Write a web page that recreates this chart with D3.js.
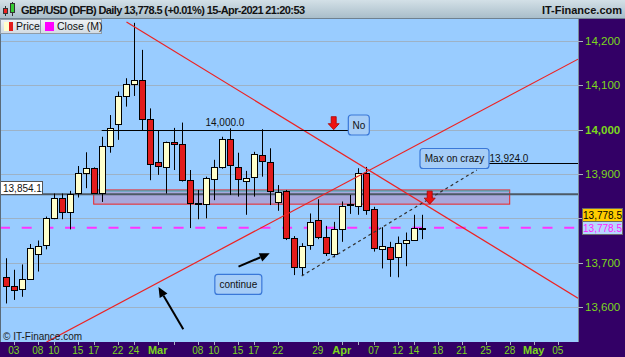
<!DOCTYPE html>
<html>
<head>
<meta charset="utf-8">
<script src="https://cdn.jsdelivr.net/npm/d3@7"></script>
<style>
body { margin: 0; background: #fff; }
svg { display: block; font-family: "Liberation Sans", Arial, sans-serif; }
</style>
</head>
<body>
<svg id="chart" width="625" height="357"></svg>
<script>
// daily GBP/USD candles, 02-Feb-2021 .. 15-Apr-2021
var dates = ["02-Feb","03-Feb","04-Feb","05-Feb","08-Feb","09-Feb","10-Feb","11-Feb","12-Feb","15-Feb",
    "16-Feb","17-Feb","18-Feb","19-Feb","22-Feb","23-Feb","24-Feb","25-Feb","26-Feb","01-Mar",
    "02-Mar","03-Mar","04-Mar","05-Mar","08-Mar","09-Mar","10-Mar","11-Mar","12-Mar","15-Mar",
    "16-Mar","17-Mar","18-Mar","19-Mar","22-Mar","23-Mar","24-Mar","25-Mar","26-Mar","29-Mar",
    "30-Mar","31-Mar","01-Apr","02-Apr","05-Apr","06-Apr","07-Apr","08-Apr","09-Apr","12-Apr",
    "13-Apr","14-Apr","15-Apr"];
var open  = [13668,13648,13640,13663,13719,13738,13800,13845,13813,13856,13902,13913,13856,13963,14014,14077,14103,14111,14023,13926,
    13916,13972,13968,13886,13834,13833,13889,13915,13978,13916,13886,13892,13942,13928,13838,13862,13756,13691,13738,13796,
    13757,13720,13776,13830,13828,13903,13820,13732,13736,13712,13745,13751,13778];
var high  = [13710,13684,13696,13742,13750,13804,13856,13856,13862,13918,13949,13915,13984,14033,14086,14116,14241,14180,14048,13999,
    13973,14004,14016,13909,13864,13894,13932,13984,14003,13948,13907,13950,14001,13958,13875,13864,13760,13744,13811,13843,
    13783,13792,13838,13853,13913,13916,13826,13780,13747,13759,13768,13808,13808];
var low   = [13608,13616,13623,13661,13680,13730,13798,13798,13775,13847,13868,13856,13837,13948,13977,14052,14076,13999,13886,13898,
    13856,13909,13883,13778,13798,13800,13841,13912,13853,13849,13808,13849,13894,13830,13817,13751,13672,13670,13729,13753,
    13715,13712,13747,13810,13808,13808,13725,13687,13668,13667,13692,13750,13753];
var close = [13647,13640,13663,13734,13738,13800,13845,13813,13854,13902,13913,13856,13963,14003,14077,14103,14111,14023,13922,13918,
    13972,13968,13886,13835,13834,13892,13915,13978,13920,13888,13892,13944,13928,13863,13860,13757,13691,13738,13791,13757,
    13720,13776,13828,13832,13902,13820,13732,13738,13708,13744,13751,13778,13778.5];

var yTicks = [13600, 13700, 13800, 13900, 14000, 14100, 14200];
var xTickIdx = [1, 4, 6, 9, 11, 14, 16, 19, 24, 26, 29, 31, 34, 39, 42, 46, 49, 51, 54, 57, 60, 63, 66, 69];
var xTickLabels = ["03","08","10","15","17","22","24","Mar","08","10","15","17","22","29","Apr","07","12","14","18","21","25","28","May","05"];
var xMinorIdx = [21, 44];

var lastPrice = 13778.5, supportLevel = 13854.1;
var zoneTop = 13864, zoneBottom = 13832, zoneFrom = 11, zoneTo = 63;
var resistLevel = 14000, resistFrom = 12, resistTo = 42.8;
var maxLevel = 13924, maxFrom = 54;
// trend lines: [index, price] pairs
var downTrend = [[15.1, 14243], [71.54, 13620]];
var upTrend = [[5.1, 13521], [71.54, 14159]];
var dashTrend = [[37, 13670], [58.9, 13909]];
var arrows = [[[22.2, 13550], [19.1, 13645]], [[29.1, 13691], [33.0, 13721]]];
var redArrows = [[41, 14000], [53, 13832]];

var W = 625, H = 357, plotL = 0, plotR = 578, plotT = 19, plotB = 342;
var svg = d3.select("#chart");
var x = d3.scaleLinear().domain([-0.7125, 71.5375]).range([plotL, plotR]);
var y = d3.scaleLinear().domain([13600, 14200]).range([307, 41]);
var fmt = d3.format(",.0f"), fmt1 = d3.format(",.1f");
var green = "#7cd81c";

var defs = svg.append("defs");
var grad = defs.append("linearGradient").attr("id", "tbar").attr("x1", 0).attr("y1", 0).attr("x2", 0).attr("y2", 1);
grad.append("stop").attr("offset", "0%").attr("stop-color", "#d3e0e7");
grad.append("stop").attr("offset", "100%").attr("stop-color", "#a7bcc8");
var lgrad = defs.append("linearGradient").attr("id", "lbar").attr("x1", 0).attr("y1", 0).attr("x2", 0).attr("y2", 1);
lgrad.append("stop").attr("offset", "0%").attr("stop-color", "#eef2f5");
lgrad.append("stop").attr("offset", "100%").attr("stop-color", "#d2dbe2");
defs.append("clipPath").attr("id", "clip").append("rect")
    .attr("x", plotL).attr("y", plotT).attr("width", plotR - plotL).attr("height", plotB - plotT);

// backgrounds
svg.append("rect").attr("x", 0).attr("y", plotT).attr("width", W).attr("height", H - plotT).attr("fill", "#330066");
svg.append("rect").attr("x", plotL).attr("y", plotT).attr("width", plotR - plotL).attr("height", plotB - plotT).attr("fill", "#99ccff");

var plot = svg.append("g").attr("clip-path", "url(#clip)");

// grid
plot.selectAll(".grid").data(yTicks).enter().append("line")
    .attr("x1", plotL).attr("x2", plotR)
    .attr("y1", function (d) { return Math.round(y(d)) + 0.5; })
    .attr("y2", function (d) { return Math.round(y(d)) + 0.5; })
    .attr("stroke", "#9db2c6").attr("stroke-width", 1);

// zone
plot.append("rect")
    .attr("x", x(zoneFrom)).attr("y", y(zoneTop))
    .attr("width", x(zoneTo) - x(zoneFrom)).attr("height", y(zoneBottom) - y(zoneTop))
    .attr("fill", "#a7a8dc").attr("stroke", "#ee2222").attr("stroke-width", 1);
plot.append("line")
    .attr("x1", x(zoneFrom)).attr("x2", x(zoneTo))
    .attr("y1", y(zoneTop) + 1).attr("y2", y(zoneTop) + 1)
    .attr("stroke", "#33aaaa").attr("stroke-width", 1);

// 13,854.1 level
plot.append("line")
    .attr("x1", plotL).attr("x2", plotR)
    .attr("y1", y(supportLevel)).attr("y2", y(supportLevel))
    .attr("stroke", "#4d5a66").attr("stroke-width", 2);

// close (M) dashed
plot.append("line")
    .attr("x1", plotL).attr("x2", plotR)
    .attr("y1", y(lastPrice)).attr("y2", y(lastPrice))
    .attr("stroke", "#ff33ff").attr("stroke-width", 2).attr("stroke-dasharray", "10,11.7");

// candles
var idx = d3.range(dates.length);
var cx = function (i) { return Math.round(x(i)) + 0.5; };
var candles = plot.append("g").selectAll("g").data(idx).enter().append("g");
candles.append("line")
    .attr("x1", cx).attr("x2", cx)
    .attr("y1", function (i) { return y(high[i]); })
    .attr("y2", function (i) { return y(low[i]); })
    .attr("stroke", "#000").attr("stroke-width", 1);
candles.append("rect")
    .attr("x", function (i) { return cx(i) - 3; })
    .attr("width", 6)
    .attr("y", function (i) { return Math.round(y(Math.max(open[i], close[i]))) + 0.5; })
    .attr("height", function (i) { return Math.max(1, Math.round(Math.abs(y(open[i]) - y(close[i])))); })
    .attr("fill", function (i) { return close[i] < open[i] ? "#e21b1b" : "#ffffcc"; })
    .attr("stroke", "#000").attr("stroke-width", 1);

// trend lines
function seg(g, p, color, w, dash) {
    return g.append("line")
        .attr("x1", x(p[0][0])).attr("y1", y(p[0][1]))
        .attr("x2", x(p[1][0])).attr("y2", y(p[1][1]))
        .attr("stroke", color).attr("stroke-width", w)
        .attr("stroke-dasharray", dash || null);
}
seg(plot, downTrend, "#ee2222", 1.2);
seg(plot, upTrend, "#ee2222", 1.2);
seg(plot, dashTrend, "#333", 1.2, "3,3");

// horizontal black levels
plot.append("line")
    .attr("x1", x(resistFrom)).attr("x2", x(resistTo))
    .attr("y1", Math.round(y(resistLevel)) + 0.5).attr("y2", Math.round(y(resistLevel)) + 0.5)
    .attr("stroke", "#000").attr("stroke-width", 1);
plot.append("text").attr("x", x(27.4)).attr("y", y(resistLevel) - 4)
    .attr("text-anchor", "middle").attr("font-size", 10).attr("fill", "#111")
    .text(fmt1(resistLevel));
plot.append("line")
    .attr("x1", x(maxFrom)).attr("x2", plotR)
    .attr("y1", Math.round(y(maxLevel)) + 0.5).attr("y2", Math.round(y(maxLevel)) + 0.5)
    .attr("stroke", "#000").attr("stroke-width", 1);

// black arrows
arrows.forEach(function (a) {
    var x1 = x(a[0][0]), y1 = y(a[0][1]), x2 = x(a[1][0]), y2 = y(a[1][1]);
    var ang = Math.atan2(y2 - y1, x2 - x1), L = 10, Wd = 4.5;
    var bx = x2 - L * Math.cos(ang), by = y2 - L * Math.sin(ang);
    plot.append("line").attr("x1", x1).attr("y1", y1).attr("x2", bx).attr("y2", by)
        .attr("stroke", "#000").attr("stroke-width", 2);
    plot.append("path").attr("d", "M" + x2 + "," + y2 +
        "L" + (bx + Wd * Math.sin(ang)) + "," + (by - Wd * Math.cos(ang)) +
        "L" + (bx - Wd * Math.sin(ang)) + "," + (by + Wd * Math.cos(ang)) + "Z")
        .attr("fill", "#000");
});

// red down arrows
redArrows.forEach(function (a) {
    var ax = x(a[0]), ay = y(a[1]);
    plot.append("path").attr("d",
        "M" + ax + "," + ay + "l-5.5,-6 l3,0 l0,-7 l5,0 l0,7 l3,0 Z")
        .attr("fill", "#ee1111").attr("stroke", "#aa0000").attr("stroke-width", 0.8);
});

// annotation boxes
function box(cxI, cyP, w, label) {
    var bx = x(cxI), by = y(cyP);
    plot.append("rect").attr("x", bx - w / 2).attr("y", by - 10).attr("width", w).attr("height", 20)
        .attr("rx", 3).attr("fill", "#a6cdf7").attr("stroke", "#3a78d8").attr("stroke-width", 1.2);
    plot.append("text").attr("x", bx).attr("y", by + 3.5).attr("text-anchor", "middle")
        .attr("font-size", 10).attr("fill", "#111").text(label);
}
box(44.14, 14010.5, 21, "No");
box(56.1, 13935, 69, "Max on crazy");
box(29.08, 13651, 47, "continue");
plot.append("text").attr("x", x(56.1) + 35).attr("y", y(13935) + 3.5)
    .attr("font-size", 10).attr("fill", "#111").text(fmt1(maxLevel));

// copyright
plot.append("text").attr("x", 3).attr("y", 339.5).attr("font-size", 10).attr("fill", "#1a1a1a")
    .text("\u00a9 IT-Finance.com");

// left level label
svg.append("rect").attr("x", 0.5).attr("y", 181.5).attr("width", 42).attr("height", 13)
    .attr("fill", "#fff").attr("stroke", "#555");
svg.append("text").attr("x", 3).attr("y", 191.5).attr("font-size", 10).attr("fill", "#111")
    .text(fmt1(supportLevel));

// plot border
svg.append("line").attr("x1", plotR + 0.5).attr("x2", plotR + 0.5).attr("y1", plotT).attr("y2", plotB)
    .attr("stroke", "#7b8a99");
svg.append("line").attr("x1", 0.5).attr("x2", 0.5).attr("y1", plotT).attr("y2", plotB)
    .attr("stroke", "#5a6b7a");

// y axis
var yAxis = svg.append("g");
yAxis.selectAll("line").data(yTicks).enter().append("line")
    .attr("x1", plotR).attr("x2", plotR + 5)
    .attr("y1", function (d) { return Math.round(y(d)) + 0.5; })
    .attr("y2", function (d) { return Math.round(y(d)) + 0.5; })
    .attr("stroke", "#a9b4c0");
yAxis.selectAll("text").data(yTicks.filter(function (d) { return d !== 13800; })).enter().append("text")
    .attr("x", 585).attr("y", function (d) { return y(d) + 4; })
    .attr("font-size", 11.5).attr("fill", green)
    .attr("font-weight", function (d) { return d === 14000 ? "bold" : "normal"; })
    .text(function (d) { return fmt(d); });

// price labels
var py = y(lastPrice);
svg.append("rect").attr("x", 582.5).attr("y", Math.round(py) - 19.5).attr("width", 40).attr("height", 13)
    .attr("fill", "#ffcc00").attr("stroke", "#6a6a6a");
svg.append("text").attr("x", 602.5).attr("y", Math.round(py) - 9).attr("font-size", 10).attr("fill", "#000")
    .attr("text-anchor", "middle").text(fmt1(lastPrice));
svg.append("rect").attr("x", 582.5).attr("y", Math.round(py) - 6.5).attr("width", 40).attr("height", 13)
    .attr("fill", "#b7d7ff").attr("stroke", "#6a6a6a");
svg.append("text").attr("x", 602.5).attr("y", Math.round(py) + 4).attr("font-size", 10).attr("fill", "#ff22ff")
    .attr("text-anchor", "middle").text(fmt1(lastPrice));

// x axis
var xAxis = svg.append("g");
xAxis.selectAll("line").data(xTickIdx.concat(xMinorIdx)).enter().append("line")
    .attr("x1", function (d) { return Math.round(x(d)) + 0.5; })
    .attr("x2", function (d) { return Math.round(x(d)) + 0.5; })
    .attr("y1", plotB).attr("y2", plotB + 3)
    .attr("stroke", "#a9b4c0");
xAxis.selectAll("text").data(xTickIdx).enter().append("text")
    .attr("x", function (d) { return x(d); })
    .attr("y", 353.5).attr("text-anchor", "middle")
    .attr("font-size", function (d, i) { return /^[A-Z]/.test(xTickLabels[i]) ? 11 : 10; })
    .attr("font-weight", function (d, i) { return /^[A-Z]/.test(xTickLabels[i]) ? "bold" : "normal"; })
    .attr("fill", green)
    .text(function (d, i) { return xTickLabels[i]; });

// title bar
svg.append("rect").attr("x", 0).attr("y", 0).attr("width", W).attr("height", 19).attr("fill", "url(#tbar)");
svg.append("line").attr("x1", 0).attr("x2", W).attr("y1", 18.5).attr("y2", 18.5).attr("stroke", "#6f8190");
svg.append("line").attr("x1", 5.5).attr("x2", 5.5).attr("y1", 6).attr("y2", 16).attr("stroke", "#333");
svg.append("rect").attr("x", 3.5).attr("y", 8.5).attr("width", 4).attr("height", 5).attr("fill", "#e22").attr("stroke", "#333");
svg.append("line").attr("x1", 12.5).attr("x2", 12.5).attr("y1", 2).attr("y2", 16).attr("stroke", "#333");
svg.append("rect").attr("x", 10.5).attr("y", 3.5).attr("width", 4).attr("height", 9).attr("fill", "#3c3").attr("stroke", "#333");
svg.append("text").attr("x", 21).attr("y", 14).attr("font-size", 11).attr("font-weight", "bold")
    .attr("fill", "#111").attr("textLength", 284)
    .text("GBP/USD (DFB) Daily " + fmt1(lastPrice) + " (+0.01%) 15-Apr-2021 21:20:53");
svg.append("text").attr("x", 622).attr("y", 14).attr("font-size", 11).attr("font-weight", "bold")
    .attr("text-anchor", "end").attr("fill", "#111").text("IT-Finance.com");

// legend
var leg = svg.append("g");
leg.append("rect").attr("x", 0.5).attr("y", 19.5).attr("width", 40).attr("height", 14).attr("fill", "url(#lbar)").attr("stroke", "#8f9ca8");
leg.append("rect").attr("x", 40.5).attr("y", 19.5).attr("width", 61).attr("height", 14).attr("fill", "url(#lbar)").attr("stroke", "#8f9ca8");
leg.append("rect").attr("x", 4).attr("y", 22).attr("width", 5).attr("height", 9).attr("fill", "#ffffcc");
leg.append("rect").attr("x", 9).attr("y", 22).attr("width", 4).attr("height", 9).attr("fill", "#e21b1b");
leg.append("text").attr("x", 16).attr("y", 30).attr("font-size", 10.5).attr("fill", "#111").text("Price");
leg.append("rect").attr("x", 45).attr("y", 22).attr("width", 9).attr("height", 9).attr("fill", "#ff00ff");
leg.append("text").attr("x", 57).attr("y", 30).attr("font-size", 10.5).attr("fill", "#111").text("Close (M)");
</script>
</body>
</html>
